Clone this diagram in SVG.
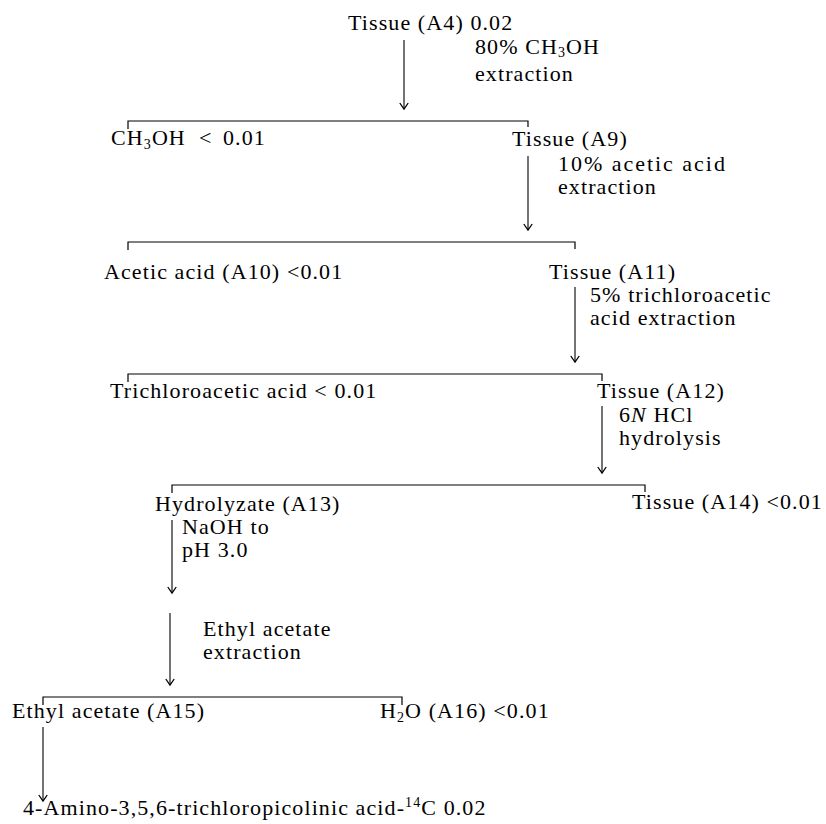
<svg xmlns="http://www.w3.org/2000/svg" width="826" height="824" viewBox="0 0 826 824">
<style>
.t{font-family:"Liberation Serif","Times New Roman",serif;font-size:22px;letter-spacing:1.1px;fill:#000}
.sub{font-size:14px}
.c{stroke:#000;stroke-width:1.2;fill:none}
.a{stroke:#000;stroke-width:1.1;fill:none;marker-end:url(#ah)}
</style>
<defs>
<marker id="ah" viewBox="0 0 10 10" refX="8" refY="5" markerWidth="10" markerHeight="10" markerUnits="userSpaceOnUse" orient="auto">
<path d="M2,0.8 L8,5 L2,9.2" fill="none" stroke="#000" stroke-width="1.3"/>
</marker>
</defs>
<rect width="826" height="824" fill="#fff"/>

<g id="connectors">
<path class="a" d="M404,40 V109"/>
<path class="c" d="M128,129 V121 H528 V127"/>
<path class="a" d="M528,156 V230"/>
<path class="c" d="M128,250 V242 H575 V249"/>
<path class="a" d="M575,287 V362"/>
<path class="c" d="M128,382 V374 H602 V381"/>
<path class="a" d="M602,406 V473"/>
<path class="c" d="M172,493 V485 H645 V492"/>
<path class="a" d="M172,520 V593"/>
<path class="a" d="M170,613 V685"/>
<path class="c" d="M43,705 V697 H402 V705"/>
<path class="a" d="M43,727 V801"/>
</g>

<g id="conditions">
<text class="t" x="475" y="54">80% CH<tspan class="sub" dy="3">3</tspan><tspan dy="-3">OH</tspan></text>
<text class="t" x="475" y="81">extraction</text>
<text class="t" x="558" y="171" textLength="168">10% acetic acid</text>
<text class="t" x="558" y="194">extraction</text>
<text class="t" x="590" y="302">5% trichloroacetic</text>
<text class="t" x="590" y="325">acid extraction</text>
<text class="t" x="619" y="422">6<tspan font-style="italic">N</tspan> HCl</text>
<text class="t" x="619" y="445">hydrolysis</text>
<text class="t" x="182" y="534">NaOH to</text>
<text class="t" x="182" y="557">pH 3.0</text>
<text class="t" x="203" y="636">Ethyl acetate</text>
<text class="t" x="203" y="659">extraction</text>
</g>

<g id="n-A4"><text class="t" x="348" y="30">Tissue (A4) 0.02</text></g>
<g id="n-CH3OH"><text class="t" x="111" y="145">CH<tspan class="sub" dy="4">3</tspan><tspan dy="-4">OH</tspan><tspan x="199">&lt;</tspan><tspan x="223">0.01</tspan></text></g>
<g id="n-A9"><text class="t" x="512" y="146">Tissue (A9)</text></g>
<g id="n-A10"><text class="t" x="104" y="279">Acetic acid (A10) &lt;0.01</text></g>
<g id="n-A11"><text class="t" x="549" y="279">Tissue (A11)</text></g>
<g id="n-TCA"><text class="t" x="110" y="398">Trichloroacetic acid &lt; 0.01</text></g>
<g id="n-A12"><text class="t" x="597" y="398">Tissue (A12)</text></g>
<g id="n-A13"><text class="t" x="155" y="511">Hydrolyzate (A13)</text></g>
<g id="n-A14"><text class="t" x="632" y="509">Tissue (A14) &lt;0.01</text></g>
<g id="n-A15"><text class="t" x="12" y="718">Ethyl acetate (A15)</text></g>
<g id="n-A16"><text class="t" x="380" y="718">H<tspan class="sub" dy="4">2</tspan><tspan dy="-4">O (A16) &lt;0.01</tspan></text></g>
<g id="n-product"><text class="t" x="23" y="815">4-Amino-3,5,6-trichloropicolinic acid-<tspan class="sub" dy="-8">14</tspan><tspan dy="8">C 0.02</tspan></text></g>
</svg>
